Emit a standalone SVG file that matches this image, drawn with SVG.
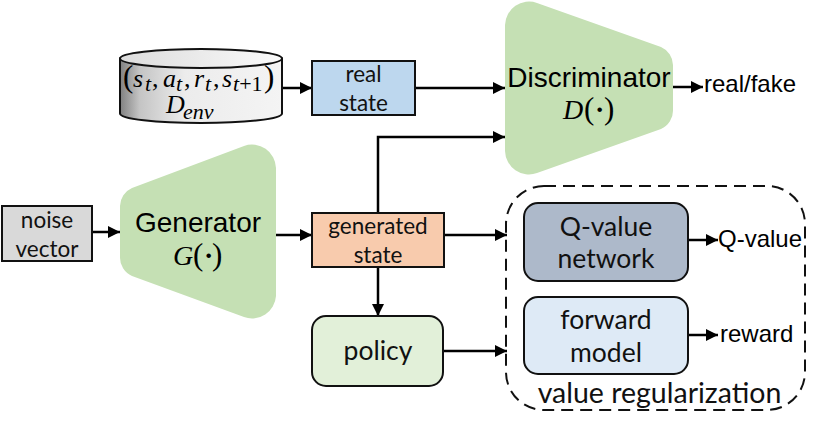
<svg xmlns="http://www.w3.org/2000/svg" width="830" height="427" viewBox="0 0 830 427">
<style>
.box{stroke:#111;stroke-width:2}
.lab{font-family:"Lato","Open Sans",sans-serif;font-size:22.500px;fill:#111;text-anchor:middle}
.lg{font-size:26.500px}
.vr{font-size:28.500px}
.ar{font-family:"Liberation Sans",Arial,sans-serif;font-size:24px;fill:#000}
.big{font-family:"Liberation Sans",Arial,sans-serif;font-size:28px;fill:#000;text-anchor:middle}
.m{font-family:"Liberation Serif","Times New Roman",serif;font-size:26px;fill:#000;font-style:italic}
.m2{font-size:28px}
.r{font-style:normal}
.p{font-style:normal;font-size:31px;font-weight:200}
.d{font-style:normal;font-weight:bold}
.s{font-size:22px}
.c{fill:none;stroke:#000;stroke-width:2.500}
.t{fill:#C5E0B4}
</style>
<defs>
<marker id="a" markerUnits="userSpaceOnUse" markerWidth="13" markerHeight="12" refX="12" refY="6" orient="auto"><path d="M0 0L12 6L0 12Z" fill="#000"/></marker>
<linearGradient id="g1" x1="0" x2="1" y1="0" y2="0"><stop offset="0" stop-color="#808080"/><stop offset=".12" stop-color="#c4c4c4"/><stop offset=".4" stop-color="#ececec"/><stop offset="1" stop-color="#f4f4f4"/></linearGradient>
<linearGradient id="g2" x1="0" x2="1" y1="0" y2="0"><stop offset="0" stop-color="#dcdcdc"/><stop offset="1" stop-color="#fafafa"/></linearGradient>
</defs>

<g id="connectors">
<path class="c" marker-end="url(#a)" d="M282 88H312"/>
<path class="c" marker-end="url(#a)" d="M415 88H505"/>
<path class="c" marker-end="url(#a)" d="M673 87H703"/>
<path class="c" marker-end="url(#a)" d="M92 232H120"/>
<path class="c" marker-end="url(#a)" d="M276 235H312"/>
<path class="c" marker-end="url(#a)" d="M378 213V137H505"/>
<path class="c" marker-end="url(#a)" d="M444 235H507"/>
<path class="c" marker-end="url(#a)" d="M378 267V316"/>
<path class="c" marker-end="url(#a)" d="M443 351H507"/>
<path class="c" marker-end="url(#a)" d="M688 240H718"/>
<path class="c" marker-end="url(#a)" d="M688 335H718"/>
</g>

<g id="replay">
<path d="M120 58.500V113.500C120 119 156 123 201 123S282 119 282 113.500V58.500Z" fill="url(#g1)" class="box"/>
<ellipse cx="201" cy="58.500" rx="81" ry="9.500" fill="url(#g2)" class="box"/>
<text class="m" y="87"><tspan x="123" class="p">(</tspan><tspan x="133">s</tspan><tspan x="145" y="91" class="s">t</tspan><tspan x="152" y="87" class="r">,</tspan><tspan x="163">a</tspan><tspan x="176" y="91" class="s">t</tspan><tspan x="184" y="87" class="r">,</tspan><tspan x="194">r</tspan><tspan x="205" y="91" class="s">t</tspan><tspan x="213" y="87" class="r">,</tspan><tspan x="222">s</tspan><tspan x="233" y="91" class="s">t<tspan class="r">+1</tspan></tspan><tspan x="264" y="87" class="p">)</tspan></text>
<text class="m" y="113"><tspan x="166">D</tspan><tspan x="183" y="119" class="s">env</tspan></text>
</g>

<g id="real-state">
<rect class="box" x="312" y="61" width="103" height="54" fill="#BDD7EE"/>
<text class="lab" x="377.500" y="82" transform="translate(-14 0)">real</text>
<text class="lab" x="363.500" y="111">state</text>
</g>

<g id="discriminator">
<path class="t" d="M505 25A24 24 0 0 1 537 3L661 47A20 20 0 0 1 673 65V110A20 20 0 0 1 661 129L537 173A24 24 0 0 1 505 151Z"/>
<text class="big" x="589" y="87">Discriminator</text>
<text class="m m2" y="119"><tspan x="563">D</tspan><tspan x="584" class="p">(</tspan><tspan x="595" class="d">·</tspan><tspan x="604" class="p">)</tspan></text>
</g>
<g id="realfake"><text class="ar" x="704" y="92">real/fake</text></g>

<g id="noise">
<rect class="box" x="2" y="206" width="90" height="55" fill="#D9D9D9"/>
<text class="lab" x="47" y="228">noise</text>
<text class="lab" x="47" y="257">vector</text>
</g>

<g id="generator">
<path class="t" d="M276 168A24 24 0 0 0 244 146L132 188A20 20 0 0 0 120 206V257A20 20 0 0 0 132 276L244 317A24 24 0 0 0 276 296Z"/>
<text class="big" x="198" y="232">Generator</text>
<text class="m m2" y="265"><tspan x="173">G</tspan><tspan x="193" class="p">(</tspan><tspan x="204" class="d">·</tspan><tspan x="212" class="p">)</tspan></text>
</g>

<g id="generated-state">
<rect class="box" x="312" y="213" width="132" height="54" fill="#F8CBAD"/>
<text class="lab" x="378" y="234">generated</text>
<text class="lab" x="378" y="263">state</text>
</g>

<g id="policy">
<rect class="box" x="312" y="316" width="131" height="70" rx="14" fill="#E2F0D9"/>
<text class="lab lg" x="378" y="360">policy</text>
</g>

<g id="value-regularization">
<rect x="506" y="186" width="299" height="224" rx="38" fill="none" stroke="#111" stroke-width="2" stroke-dasharray="12 7"/>
<text class="lab vr" x="659.500" y="403">value regularization</text>
</g>

<g id="q-network">
<rect class="box" x="524" y="203" width="164" height="78" rx="14" fill="#ADB9CA"/>
<text class="lab lg" x="606" y="236">Q-value</text>
<text class="lab lg" x="606" y="268">network</text>
</g>
<g id="q-value"><text class="ar" x="718" y="247">Q-value</text></g>

<g id="forward-model">
<rect class="box" x="524" y="297" width="164" height="77" rx="14" fill="#DEEAF6"/>
<text class="lab lg" x="606" y="329">forward</text>
<text class="lab lg" x="606" y="362">model</text>
</g>
<g id="reward"><text class="ar" x="720" y="342">reward</text></g>
</svg>
